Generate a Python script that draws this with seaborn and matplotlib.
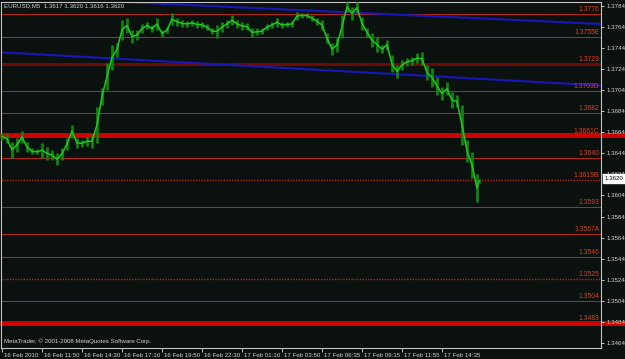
import numpy as np
import pandas as pd
import matplotlib
matplotlib.use("Agg")
import matplotlib.pyplot as plt
import matplotlib.transforms as mtransforms
import seaborn as sns

# ---------------- data ----------------
symbol_text = "EURUSD,M5  1.3617 1.3620 1.3616 1.3620"
copyright_text = "MetaTrader, \u00a9 2001-2008 MetaQuotes Software Corp."

# minutes since 16 Feb 2010 09:10, one column every 20 minutes (+ last bar)
bar_minutes = list(range(0, 1920, 20)) + [1908]
bar_high = [1.3663, 1.3662, 1.3655, 1.3659, 1.3665, 1.3655, 1.3649, 1.3648, 1.3654, 1.3650,
            1.3647, 1.3644, 1.3649, 1.3659, 1.3671, 1.3659, 1.3657, 1.3660, 1.3662, 1.3688,
            1.3706, 1.3730, 1.3747, 1.3749, 1.3771, 1.3773, 1.3761, 1.3761, 1.3767, 1.3769,
            1.3766, 1.3773, 1.3761, 1.3764, 1.3777, 1.3773, 1.3771, 1.3770, 1.3771, 1.3770,
            1.3769, 1.3767, 1.3763, 1.3766, 1.3769, 1.3771, 1.3775, 1.3771, 1.3769, 1.3768,
            1.3763, 1.3763, 1.3763, 1.3767, 1.3769, 1.3773, 1.3769, 1.3769, 1.3770, 1.3778,
            1.3777, 1.3777, 1.3775, 1.3773, 1.3771, 1.3758, 1.3749, 1.3754, 1.3775, 1.3788,
            1.3783, 1.3788, 1.3774, 1.3763, 1.3758, 1.3755, 1.3747, 1.3752, 1.3737, 1.3728,
            1.3733, 1.3735, 1.3736, 1.3739, 1.3740, 1.3728, 1.3725, 1.3717, 1.3707, 1.3712,
            1.3702, 1.3699, 1.3690, 1.3657, 1.3645, 1.3624, 1.3620]
bar_low = [1.3657, 1.3654, 1.3640, 1.3645, 1.3654, 1.3645, 1.3643, 1.3643, 1.3640, 1.3638,
           1.3638, 1.3633, 1.3638, 1.3647, 1.3659, 1.3649, 1.3650, 1.3651, 1.3649, 1.3654,
           1.3690, 1.3704, 1.3723, 1.3736, 1.3752, 1.3758, 1.3749, 1.3752, 1.3758, 1.3762,
           1.3759, 1.3761, 1.3755, 1.3758, 1.3766, 1.3765, 1.3764, 1.3764, 1.3765, 1.3763,
           1.3763, 1.3761, 1.3757, 1.3754, 1.3759, 1.3763, 1.3766, 1.3763, 1.3761, 1.3761,
           1.3755, 1.3756, 1.3757, 1.3761, 1.3763, 1.3764, 1.3763, 1.3764, 1.3764, 1.3771,
           1.3773, 1.3773, 1.3770, 1.3766, 1.3761, 1.3749, 1.3737, 1.3740, 1.3754, 1.3778,
           1.3771, 1.3777, 1.3761, 1.3755, 1.3745, 1.3740, 1.3739, 1.3742, 1.3721, 1.3716,
           1.3723, 1.3727, 1.3728, 1.3730, 1.3728, 1.3714, 1.3707, 1.3699, 1.3695, 1.3699,
           1.3687, 1.3688, 1.3652, 1.3636, 1.3621, 1.3598, 1.3616]

level_values = [1.3776, 1.3755, 1.3729, 1.3703, 1.3682, 1.3661, 1.3640,
                1.3619, 1.3593, 1.3567, 1.3546, 1.3525, 1.3504, 1.3483]
level_labels = ["1.3776", "1.3755E", "1.3729", "1.3703D", "1.3682", "1.3661C", "1.3640",
                "1.3619B", "1.3593", "1.3567A", "1.3546", "1.3525", "1.3504", "1.3483"]

# trend lines: (minute, price) anchor pairs
trend_upper = [(560, 1.3787), (2392, 1.3767)]
trend_lower = [(0, 1.3740), (2392, 1.37085)]

price_ticks = [1.3784, 1.3764, 1.3744, 1.3724, 1.3704, 1.3684, 1.3664, 1.3644, 1.3624,
               1.3604, 1.3584, 1.3564, 1.3544, 1.3524, 1.3504, 1.3484, 1.3464]
time_tick_minutes = [0, 160, 320, 480, 640, 800, 960, 1120, 1280, 1440, 1600, 1760]
time_tick_labels = ["16 Feb 2010", "16 Feb 11:50", "16 Feb 14:30", "16 Feb 17:10",
                    "16 Feb 19:50", "16 Feb 22:30", "17 Feb 01:10", "17 Feb 03:50",
                    "17 Feb 06:35", "17 Feb 09:15", "17 Feb 11:55", "17 Feb 14:35"]
last_price = 1.3620

# ---------------- styling ----------------
BG = "#0b110f"
FRAME = "#c4c4c4"
TXT = "#d2d2d2"
FS = 4.4
sns.set_style("dark", {"axes.facecolor": BG, "figure.facecolor": BG})
plt.rcParams["font.family"] = ["Liberation Sans", "DejaVu Sans"]

W, H = 625, 359
fig = plt.figure(figsize=(W / 100, H / 100), dpi=100)
fig.patch.set_facecolor(BG)
L, R, T, B = 1.5, 601.0, 1.5, 348.0
ax = fig.add_axes([L / W, 1 - B / H, (R - L) / W, (B - T) / H])
ax.set_facecolor(BG)
ax.grid(False)

px_per_min = 0.25
ax.set_xlim((L - 2) / px_per_min, (R - 2) / px_per_min)
ax.set_ylim(1.34591, 1.37883)

df = pd.DataFrame({"t": bar_minutes, "high": bar_high, "low": bar_low})
df["mid"] = (df["high"] + df["low"]) / 2

# horizontal levels
line_red = "#b4280f"
lab_red = "#e0401a"
thick = {"1.3661C", "1.3483"}
dark = {"1.3729"}
dotted = {"1.3619B", "1.3525"}
for v, lab in zip(level_values, level_labels):
    if lab in thick:
        ax.axhline(v, xmin=0, xmax=(W - L) / (R - L), color="#d00000", lw=3.6,
                   clip_on=False, zorder=0.5)
    elif lab in dark:
        ax.axhline(v, color="#6e0a05", lw=2.2, zorder=1)
    elif lab in dotted:
        ax.axhline(v, color=line_red, lw=1.0, ls=(0, (1, 1)), zorder=1)
    else:
        ax.axhline(v, color=line_red, lw=0.75, zorder=1)
    ax.text(0.997, v + 0.00009, lab, transform=ax.get_yaxis_transform(),
            ha="right", va="bottom", fontsize=FS + 0.5, color=lab_red, zorder=5)

# trend lines
for (t1, p1), (t2, p2) in [trend_upper, trend_lower]:
    ax.axline((t1, p1), (t2, p2), color="#1818b8", lw=1.5, zorder=2)

# price bars
ax.vlines(df["t"], df["low"], df["high"], color="#0f820f", lw=2.0, zorder=3)
sns.lineplot(data=df, x="t", y="mid", ax=ax, color="#22c822", lw=1.1, zorder=4,
             estimator=None)
ax.set_xlabel("")
ax.set_ylabel("")

# axes / ticks
for s in ax.spines.values():
    s.set_visible(True)
    s.set_color(FRAME)
    s.set_linewidth(0.8)
ax.yaxis.tick_right()
ax.set_yticks(price_ticks)
ax.set_yticklabels([f"{p:.4f}" for p in price_ticks])
ax.tick_params(axis="y", which="both", right=True, left=False, length=2.5, width=0.7,
               color=FRAME, labelcolor=TXT, labelsize=FS, pad=1.2)
ax.yaxis.set_zorder(6)
ax.set_xticks(time_tick_minutes)
ax.set_xticklabels(time_tick_labels, ha="left")
ax.tick_params(axis="x", which="both", bottom=True, length=3, width=0.7, color=FRAME,
               labelcolor=TXT, labelsize=FS, pad=0.8)
offset = mtransforms.ScaledTranslation(1.5 / 100, 0, fig.dpi_scale_trans)
for lbl in ax.get_xticklabels():
    lbl.set_transform(lbl.get_transform() + offset)

# current price box
ax.text(1.006, last_price, f"{last_price:.4f}", transform=ax.get_yaxis_transform(),
        ha="left", va="center", fontsize=FS, color="black", zorder=7, clip_on=False,
        bbox=dict(boxstyle="square,pad=0.3", fc="white", ec="white"))

# header / footer texts
ax.text(0.005, 0.987, symbol_text, transform=ax.transAxes, ha="left", va="center",
        fontsize=FS, color=TXT, zorder=6)
ax.text(0.005, 0.02, copyright_text, transform=ax.transAxes, ha="left", va="center",
        fontsize=FS, color=TXT, zorder=6)

fig.savefig("out.png", dpi=100, facecolor=BG)
